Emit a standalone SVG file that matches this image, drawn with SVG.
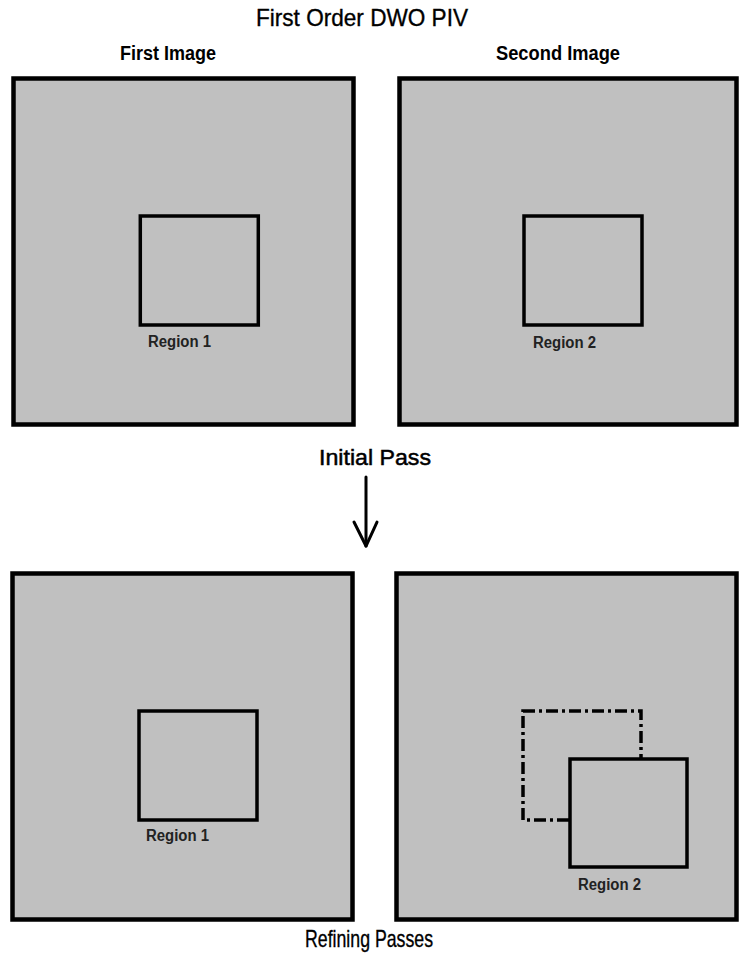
<svg xmlns="http://www.w3.org/2000/svg" width="739" height="958" viewBox="0 0 739 958">
<style>
.frame{fill:#c0c0c0;stroke:#000;stroke-width:4.5}
.region{fill:#c0c0c0;stroke:#000;stroke-width:3.5}
.dashed{fill:none;stroke:#000;stroke-width:3.5;stroke-dasharray:12,4,3,4}
.title{font-family:"Liberation Sans",Arial,sans-serif;font-size:24px;fill:#000;stroke:#000;stroke-width:0.35}
.pass{font-family:"Liberation Sans",Arial,sans-serif;font-size:22px;fill:#000;stroke:#000;stroke-width:0.5}
.head{font-family:"Liberation Sans",Arial,sans-serif;font-size:20px;font-weight:bold;fill:#000}
.label{font-family:"Liberation Sans",Arial,sans-serif;font-size:16px;font-weight:bold;fill:#222}
.conn{fill:none;stroke:#000;stroke-width:3;stroke-linecap:round;stroke-linejoin:round}
</style>
<rect width="739" height="958" fill="#fff"/>
<text class="title" x="256" y="26" textLength="212" lengthAdjust="spacingAndGlyphs">First Order DWO PIV</text>
<text class="head" x="120" y="60" textLength="96" lengthAdjust="spacingAndGlyphs">First Image</text>
<text class="head" x="496" y="60" textLength="124" lengthAdjust="spacingAndGlyphs">Second Image</text>
<g id="first-image-initial">
<rect class="frame" x="13.5" y="78.5" width="340" height="346"/>
<rect class="region" x="140.3" y="216" width="118" height="109"/>
<text class="label" x="148" y="347" textLength="63" lengthAdjust="spacingAndGlyphs">Region 1</text>
</g>
<g id="second-image-initial">
<rect class="frame" x="399.5" y="78.5" width="337" height="346"/>
<rect class="region" x="524" y="216" width="118" height="109"/>
<text class="label" x="533" y="348" textLength="63" lengthAdjust="spacingAndGlyphs">Region 2</text>
</g>
<text class="pass" x="319" y="465" textLength="112" lengthAdjust="spacingAndGlyphs">Initial Pass</text>
<g id="connectors">
<path class="conn" d="M366 477 V546"/>
<path class="conn" d="M354 522 L366 546 L377 522"/>
</g>
<g id="first-image-refining">
<rect class="frame" x="12.5" y="573.5" width="340" height="346"/>
<rect class="region" x="139" y="711" width="118" height="109"/>
<text class="label" x="146" y="841" textLength="63" lengthAdjust="spacingAndGlyphs">Region 1</text>
</g>
<g id="second-image-refining">
<rect class="frame" x="396.5" y="573.5" width="340" height="346"/>
<rect class="dashed" x="523" y="711" width="118" height="109"/>
<rect class="region" x="570" y="759" width="117" height="108"/>
<text class="label" x="578" y="890" textLength="63" lengthAdjust="spacingAndGlyphs">Region 2</text>
</g>
<text class="title" x="305" y="947" textLength="128" lengthAdjust="spacingAndGlyphs">Refining Passes</text>
</svg>
